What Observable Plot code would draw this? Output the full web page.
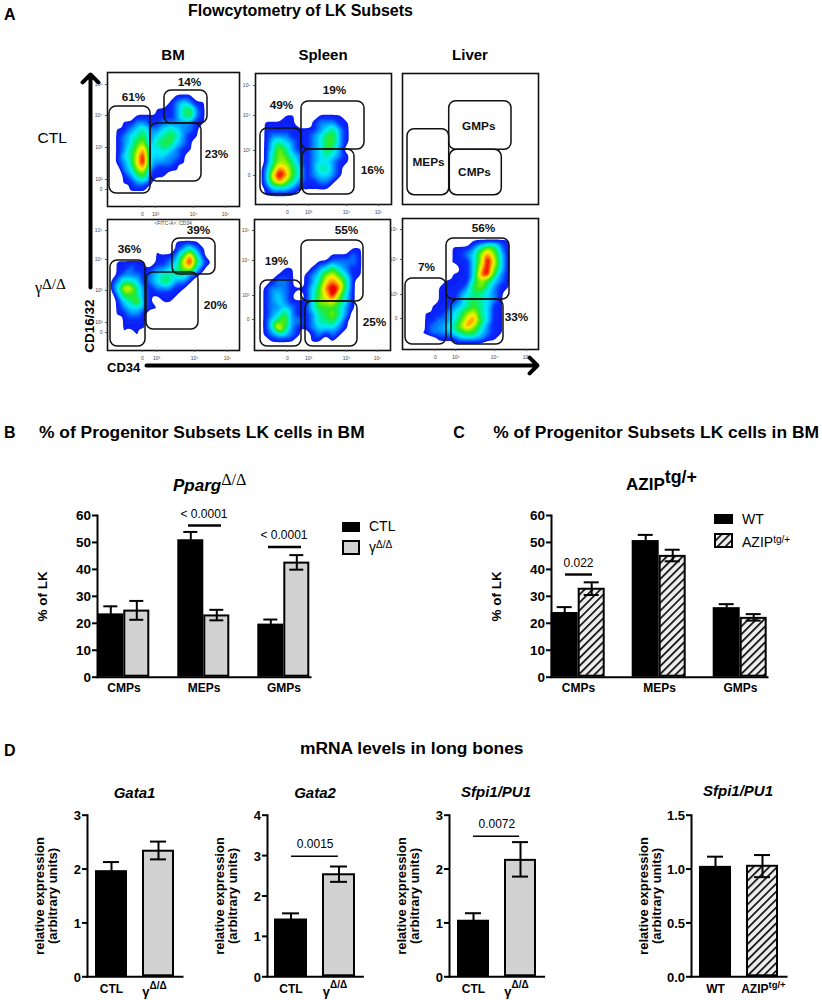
<!DOCTYPE html>
<html><head><meta charset="utf-8">
<script src="https://cdn.jsdelivr.net/npm/d3@7"></script>
<script src="https://cdn.jsdelivr.net/npm/@observablehq/plot@0.6"></script>
<style>
html,body{margin:0;padding:0;background:#fff}
#c{position:relative;width:822px;height:1000px;overflow:hidden;font-family:"Liberation Sans",Arial,sans-serif;color:#000}
.t{position:absolute;white-space:nowrap;line-height:1}
.t sup{font-size:.72em;line-height:0;vertical-align:.42em}
.b{font-weight:bold}.i{font-style:italic}
.sw{position:absolute;box-sizing:border-box}
</style></head><body>
<div id="c"></div>
<script>
// ---------- panel B ----------
const categories = ["CMPs","MEPs","GMPs"];
const bCtl = [23.5,51,19.7], bCtlHi = [26.3,53.9,21.4];
const bGam = [24.9,23.1,42.7], bGamHi = [28.3,25,45.3], bGamLo = [21.3,21.1,39.9];
// ---------- panel C ----------
const cWt = [24,50.7,25.8], cWtHi = [26,52.8,27.1];
const cAz = [33,45.2,22.2], cAzHi = [35.2,47.3,23.4], cAzLo = [30.5,43,21];
// ---------- panel D ----------
const gata1 = [1.97,2.35], gata1Hi = [2.13,2.51], gata1Lo = [1.81,2.18];
const gata2 = [1.43,2.55], gata2Hi = [1.57,2.73], gata2Lo = [1.29,2.35];
const sfpiA = [1.05,2.18], sfpiAHi = [1.18,2.5], sfpiALo = [.92,1.86];
const sfpiB = [1.025,1.035], sfpiBHi = [1.115,1.13], sfpiBLo = [.935,.925];
// ---------- panel A: density levels, 20 x 20 cells, 0 empty .. 9 red ----------
const densBMctl = ["","","","00000000001110","00000000012321100000","00000001112452100000","00001111112452100000","00112211222221100000","01123422343221","01234523454211","0123562455321","0124683343211","013479333221","012479322211","00236721111","001245111","0011221","000111","",""];
const densSPctl = ["","","","","","","0000110001111","01111100122211","01111111123421","01222111235521","01343211235521","0136421123542","01465321234321","01466421233211","0258753124421","0279853123321","026864211221","01333211111","011111",""];
const densBMgam = ["","","","00000000001111","00000101001242100000","00000001112584100000","01111101123795210000","011211122346731","01222123444421","1244312354221","137742122211","02554211111","0134621011","01233211","011221","001111","001111","00101","00101",""];
const densSPgam = ["","","","","0000000000000011","0000000000011121","0000000001122221","00001100123532110000","00011101236753110000","001221012478741","012221113589841","012321013579631","012321113667531","012232113555421","01235211245642","01356221244531","01385211233321","0123321012121","001111001101",""];
const densLVgam = ["","","","00000000001111110000","00000001112465210000","00000001123686310000","00000001113697310000","00000010113796310000","00000001113895210000","00000011114653210000","00000111125642110000","000001112344321","000001112454321","000011123454311","000111234674311","000112235785311","000122346864211","001122234553211","00000111222211",""];
// gates per panel [x1,x2,y1,y2] in flow-plot units
const gBMctl = [[2,43,34,121],[43,94,51,109],[57,100,18,51]];
const gSPctl = [[5,46,55,121],[46,109,28,76],[47,99,76,121]];
const gLVctl = [[5,46.7,55.7,121.7],[46.7,109,27.7,76.3],[47.3,99.3,76.3,121.7]];
const gBMgam = [[3,38,41,127],[39,91,53,110],[65,108,19,55]];
const gSPgam = [[6,47,61,127],[47,109,21,82],[51,103,82,127]];
const gLVgam = [[3,44,60,126],[44,107,20,81],[49,101,81,126]];
const pctBMctl = [["61%",26,25],["14%",82,10],["23%",109,82]];
const pctSPctl = [["49%",26,32],["19%",79,17],["16%",117,97]];
const subsLV = [["MEPs",26,89],["GMPs",76.3,52.3],["CMPs",72,98.7]];
const pctBMgam = [["36%",22,30],["39%",91,11],["20%",108,86]];
const pctSPgam = [["19%",22,42],["55%",92,11],["25%",120,103]];
const pctLVgam = [["7%",24,49],["56%",81,10],["33%",114,99]];
const decadeLabels = ["0","10³","10⁴","10⁵"];

const root = document.getElementById("c");
function txt(x,y,html,cls="",st={},anchor="l"){
  const d=document.createElement("div");d.className="t "+cls;d.innerHTML=html;
  Object.assign(d.style,{left:x+"px",top:y+"px",transform:(anchor==="c"?"translate(-50%,-50%)":"translate(0,-50%)")},st);
  root.appendChild(d);return d;
}
function place(p,l,t){p.style.position="absolute";p.style.left=l+"px";p.style.top=t+"px";p.style.maxWidth="none";root.appendChild(p);}

// hatch pattern, shared by all plots
root.insertAdjacentHTML("beforeend",`<svg width="0" height="0" style="position:absolute"><defs><pattern id="hatch" patternUnits="userSpaceOnUse" width="5.6" height="5.6" patternTransform="rotate(45)"><rect width="5.6" height="5.6" fill="#ededed"/><rect width="1.6" height="5.6" fill="#000"/></pattern></defs></svg>`);

// ---------- flow panels ----------
const levels = d3.range(0.8,9.01,0.2);
const densColor = {type:"linear",interpolate:"rgb",domain:[.8,1.2,2,3,4,5,6,6.8,7.6,8.3],
  range:["#0a1ef5","#0a30ff","#0090ff","#00e8ff","#00f090","#30e820","#a0f000","#fff000","#ff9000","#f01000"]};
function flow({l,t,w,h,dens,gates,labels,xt,yt}){
  const ml=22,mt=2,mb=18,mr=2;
  const marks=[];
  if(dens){
    const cells=dens.flatMap((r,j)=>[...r.padEnd(20,"0")].map((v,i)=>({x:(i+.5)*w/20,y:(j+.5)*h/20,v:+v})));
    marks.push(Plot.contour(cells,{x:"x",y:"y",fill:"v",thresholds:levels,interpolate:"barycentric",pixelSize:1,blur:1.3,clip:true}));
  }
  marks.push(Plot.rect(gates,{x1:d=>d[0],x2:d=>d[1],y1:d=>d[2],y2:d=>d[3],rx:7,fill:"none",stroke:"#111",strokeWidth:1.5}));
  marks.push(Plot.frame({stroke:"#111",strokeWidth:1.6}));
  marks.push(Plot.text(labels,{x:d=>d[1],y:d=>d[2],text:d=>d[0],fontWeight:"bold",fontSize:11.8,fill:"#111"}));
  if(xt) marks.push(Plot.axisX(xt,{anchor:"bottom",tickSize:2,tickPadding:4,fontSize:5,label:null,stroke:"#555",fill:"#444",tickFormat:(d,i)=>decadeLabels[i]}));
  if(yt) marks.push(Plot.axisY(yt.pos,{anchor:"left",tickSize:2,tickPadding:3,fontSize:5,label:null,stroke:"#555",fill:"#444",tickFormat:(d,i)=>yt.lab[i]}));
  const p=Plot.plot({width:w+ml+mr,height:h+mt+mb,marginLeft:ml,marginRight:mr,marginTop:mt,marginBottom:mb,
    x:{domain:[0,w],axis:null},y:{domain:[0,h],reverse:true,axis:null},color:densColor,
    style:{fontFamily:"Liberation Sans",background:"transparent",overflow:"visible"},marks});
  place(p,l-ml,t-mt);
}
const yA=["10⁵","10⁴","10³","10²","0"], yB=["10⁵","10⁴","10³","0"];
flow({l:107,t:72,w:132,h:134,dens:densBMctl,gates:gBMctl,labels:pctBMctl,xt:[35,48,86,118],yt:{pos:[12,43,75,107,117],lab:yA}});
flow({l:255,t:73,w:136,h:131,dens:densSPctl,gates:gSPctl,labels:pctSPctl,xt:[32,53,91,123],yt:{pos:[12,42,77,102],lab:yB}});
flow({l:402,t:73,w:136,h:131,dens:null,gates:gLVctl,labels:subsLV});
flow({l:107,t:219,w:132,h:131,dens:densBMgam,gates:gBMgam,labels:pctBMgam,xt:[35,49,87,120],yt:{pos:[11,40,71,103,113],lab:yA}});
flow({l:254,t:219,w:136,h:131,dens:densSPgam,gates:gSPgam,labels:pctSPgam,xt:[33,54,92,123],yt:{pos:[11,41,76,100],lab:yB}});
flow({l:402,t:218,w:136,h:131,dens:densLVgam,gates:gLVgam,labels:pctLVgam,xt:[33,53,92,124],yt:{pos:[11,41,76,100],lab:yB}});

// axes arrows of panel A
place(Plot.plot({width:822,height:400,margin:0,x:{domain:[0,822],range:[0,822],axis:null},y:{domain:[0,400],range:[0,400],axis:null},
  style:{background:"transparent",overflow:"visible"},
  marks:[
    Plot.arrow([{a:90,b:287,c:90,d:74},{a:146,b:365,c:537,d:365}],{x1:"a",y1:"b",x2:"c",y2:"d",strokeWidth:4,stroke:"#000",headLength:4.2,headAngle:90})
  ]}),0,0);

// ---------- grouped bars B, C ----------
const hatch="url(#hatch)";
function rows(cats,g1,v1,h1,g2,v2,h2,l2){
  return cats.flatMap((c,i)=>[
    {cat:c,g:g1,v:v1[i],hi:h1[i],lo:2*v1[i]-h1[i]},
    {cat:c,g:g2,v:v2[i],hi:h2[i],lo:l2[i]}]);
}
function grouped({left,axisX,endX,data,groups,fills,sig}){
  const ml=axisX-left, w=endX-left+3;
  const p=Plot.plot({width:w,height:200,marginLeft:ml,marginRight:3,marginTop:15,marginBottom:23.3,
    style:{fontFamily:"Liberation Sans",background:"transparent",overflow:"visible",color:"#000"},
    fx:{domain:categories,paddingInner:1/3,paddingOuter:.165,label:null,axis:null},
    x:{domain:groups,padding:0,axis:null},
    y:{domain:[0,60],axis:null},
    marks:[
      Plot.barY(data,{fx:"cat",x:"g",y:"v",fill:d=>fills[d.g],stroke:"#000",strokeWidth:2,inset:1}),
      Plot.ruleX(data,{fx:"cat",x:"g",y1:"lo",y2:"hi",stroke:"#000",strokeWidth:2}),
      Plot.tickY(data,{fx:"cat",x:"g",y:"hi",insetLeft:6,insetRight:6,stroke:"#000",strokeWidth:2}),
      Plot.tickY(data,{fx:"cat",x:"g",y:"lo",insetLeft:6,insetRight:6,stroke:"#000",strokeWidth:2}),
      Plot.ruleY(sig,{fx:"cat",y:"y",strokeWidth:2.4,stroke:"#000",insetLeft:sig[0].il,insetRight:sig[0].ir}),
      Plot.text(sig,{fx:"cat",y:"y",text:"label",frameAnchor:"middle",dy:-11.5,fontSize:12,fill:"#000"}),
      Plot.axisFx({anchor:"bottom",tickSize:0,tickPadding:6,fontWeight:"bold",fontSize:12,label:null}),
      Plot.axisY({anchor:"left",ticks:[0,10,20,30,40,50,60],tickSize:5,tickPadding:1.5,strokeWidth:2,fontWeight:"bold",fontSize:13.5,
        label:"% of LK",labelAnchor:"center",labelArrow:"none",labelOffset:60}),
      Plot.frame({anchor:"left",facet:"super",stroke:"#000",strokeWidth:2}),
      Plot.frame({anchor:"bottom",facet:"super",stroke:"#000",strokeWidth:2})
    ]});
  place(p,left,500);
}
const groupsB=["CTL","gam"], groupsC=["WT","AZIP"];
grouped({left:30,axisX:82.7,endX:325,data:rows(categories,"CTL",bCtl,bCtlHi,"gam",bGam,bGamHi,bGamLo),groups:groupsB,
  fills:{CTL:"#000",gam:"#d2d2d2"},sig:[{cat:"MEPs",y:56.3,label:"< 0.0001",il:11,ir:9},{cat:"GMPs",y:48.3,label:"< 0.0001",il:11,ir:9}]});
grouped({left:485,axisX:537.3,endX:781.3,data:rows(categories,"WT",cWt,cWtHi,"AZIP",cAz,cAzHi,cAzLo),groups:groupsC,
  fills:{WT:"#000",AZIP:hatch},sig:[{cat:"CMPs",y:38.1,label:"0.022",il:14,ir:13}]});

// ---------- two-bar panels D ----------
function pair({axisX,endX,vals,his,los,groups,fills,top,ticks,fmt,base,sup,supDx,sig,tick}){
  const left=axisX-54;
  const data=groups.map((g,i)=>({g,v:vals[i],hi:his[i],lo:los[i]}));
  const plain=groups.map((g,i)=>({g,t:base[i],s:sup[i]}));
  const p=Plot.plot({width:endX-left+2,height:200,marginLeft:54,marginRight:2,marginTop:14.7,marginBottom:23.7,
    style:{fontFamily:"Liberation Sans",background:"transparent",overflow:"visible",color:"#000"},
    x:{domain:groups,paddingInner:.3125,paddingOuter:.146,axis:null},
    y:{domain:[0,top],axis:null},
    marks:[
      Plot.barY(data,{x:"g",y:"v",fill:d=>fills[d.g],stroke:"#000",strokeWidth:2,inset:1}),
      Plot.ruleX(data,{x:"g",y1:"lo",y2:"hi",stroke:"#000",strokeWidth:2}),
      Plot.tickY(data,{x:"g",y:"hi",insetLeft:8,insetRight:8,stroke:"#000",strokeWidth:2}),
      Plot.tickY(data,{x:"g",y:"lo",insetLeft:8,insetRight:8,stroke:"#000",strokeWidth:2}),
      Plot.ruleY(sig,{y:"y",insetLeft:24,insetRight:24.5,stroke:"#000",strokeWidth:1.6}),
      Plot.text(sig,{y:"y",text:"label",frameAnchor:"middle",dy:-12,fontSize:12,fill:"#000"}),
      Plot.text(plain.filter(d=>!d.s),{x:"g",y:()=>0,text:"t",dy:12.4,fontWeight:"bold",fontSize:12,fill:"#000"}),
      Plot.text(plain.filter(d=>d.s),{x:"g",y:()=>0,text:"t",dy:tick.dy,dx:supDx,textAnchor:"end",fontWeight:tick.w,fontSize:tick.fs,fill:"#000"}),
      Plot.text(plain.filter(d=>d.s),{x:"g",y:()=>0,text:"s",dy:8.5,dx:supDx,textAnchor:"start",fontWeight:"bold",fontSize:tick.sfs,fill:"#000"}),
      Plot.axisY({anchor:"left",ticks,tickFormat:fmt,tickSize:5,tickPadding:1.5,strokeWidth:2,fontWeight:"bold",fontSize:13,
        label:"relative expression\n(arbitrary units)",labelAnchor:"center",labelArrow:"none",labelOffset:53,lineHeight:1.2}),
      Plot.frame({anchor:"left",stroke:"#000",strokeWidth:2}),
      Plot.frame({anchor:"bottom",stroke:"#000",strokeWidth:2})
    ]});
  place(p,left,800);
}
const groupsD=["CTL","γ"], fillsD={"CTL":"#000","γ":"#d2d2d2"};
const baseD=["CTL","γ"], supD=["","Δ/Δ"];
const tickG={dy:15,w:"bold",fs:13,sfs:10};
pair({axisX:86.7,endX:181.7,vals:gata1,his:gata1Hi,los:gata1Lo,groups:groupsD,fills:fillsD,top:3,ticks:[0,1,2,3],fmt:d3.format("d"),base:baseD,sup:supD,supDx:-9,sig:[],tick:tickG});
pair({axisX:267.3,endX:362.7,vals:gata2,his:gata2Hi,los:gata2Lo,groups:groupsD,fills:fillsD,top:4,ticks:[0,1,2,3,4],fmt:d3.format("d"),base:baseD,sup:supD,supDx:-9,sig:[{y:2.985,label:"0.0015"}],tick:tickG});
pair({axisX:448.7,endX:543.3,vals:sfpiA,his:sfpiAHi,los:sfpiALo,groups:groupsD,fills:fillsD,top:3,ticks:[0,1,2,3],fmt:d3.format("d"),base:baseD,sup:supD,supDx:-9,sig:[{y:2.61,label:"0.0072"}],tick:tickG});
pair({axisX:691,endX:786,vals:sfpiB,his:sfpiBHi,los:sfpiBLo,groups:["WT","AZIP"],fills:{WT:"#000",AZIP:hatch},top:1.5,ticks:[0,.5,1,1.5],fmt:d3.format(".1f"),base:["WT","AZIP"],sup:["","tg/+"],supDx:6,sig:[],tick:{dy:12.4,w:"bold",fs:12,sfs:9.5}});

// ---------- texts ----------
txt(4,15,"A","b",{fontSize:"16px"});
txt(188,10.5,"Flowcytometry of LK Subsets","b",{fontSize:"16px"});
txt(173,54,"BM","b",{fontSize:"15px"},"c");
txt(323,54,"Spleen","b",{fontSize:"15px"},"c");
txt(470,54,"Liver","b",{fontSize:"15px"},"c");
txt(37.5,138,"CTL","",{fontSize:"15.5px"});
txt(35,288,'γ<sup style="font-size:.95em;vertical-align:.28em">Δ/Δ</sup>',"",{fontFamily:"Liberation Serif",fontSize:"16px"});
txt(90,326,"CD16/32","b",{fontSize:"13.5px",transform:"translate(-50%,-50%) rotate(-90deg)"});
txt(107,367,"CD34","b",{fontSize:"13px"});
txt(173,223,"&lt;FITC-A&gt;: CD34","",{fontSize:"5px",color:"#444"},"c");

txt(4,432.7,"B","b",{fontSize:"16px"});
txt(39,432.7,"% of Progenitor Subsets LK cells in BM","b",{fontSize:"17.4px"});
txt(453.3,432.7,"C","b",{fontSize:"16px"});
txt(493.3,432.7,"% of Progenitor Subsets LK cells in BM","b",{fontSize:"17.4px"});
txt(173,485,'<span class="b i">Pparg</span><sup style="font-size:.95em;vertical-align:.32em;font-family:Liberation Serif">Δ/Δ</sup>',"",{fontSize:"17px"});
txt(626,484,'AZIP<sup style="font-size:1.05em;vertical-align:.38em">tg/+</sup>',"b",{fontSize:"17px"});

// legends
function swatch(x,y,w,h,bg,border){const d=document.createElement("div");d.className="sw";
  Object.assign(d.style,{left:x+"px",top:y+"px",width:w+"px",height:h+"px",background:bg,border:border||"none"});root.appendChild(d);}
swatch(341.7,521.7,18.5,10,"#000");
swatch(341.7,540,18.5,15,"#d2d2d2","2px solid #000");
txt(369,526,"CTL","",{fontSize:"14px"});
txt(369,547,"γ<sup>Δ/Δ</sup>","",{fontSize:"14px"});
swatch(714,514,19,10,"#000");
root.insertAdjacentHTML("beforeend",`<svg width="19" height="15" style="position:absolute;left:714px;top:533px"><rect x="1" y="1" width="17" height="13" fill="url(#hatch)" stroke="#000" stroke-width="2"/></svg>`);
txt(742,519,"WT","",{fontSize:"14px"});
txt(742,542,"AZIP<sup>tg/+</sup>","",{fontSize:"14px"});

txt(4,751,"D","b",{fontSize:"16px"});
txt(300,749,"mRNA levels in long bones","b",{fontSize:"17.4px"});
txt(134.5,791.7,"Gata1","b i",{fontSize:"15px"},"c");
txt(315,791.7,"Gata2","b i",{fontSize:"15px"},"c");
txt(496,791,"Sfpi1/PU1","b i",{fontSize:"15px"},"c");
txt(738,790,"Sfpi1/PU1","b i",{fontSize:"15px"},"c");
</script>
</body></html>
